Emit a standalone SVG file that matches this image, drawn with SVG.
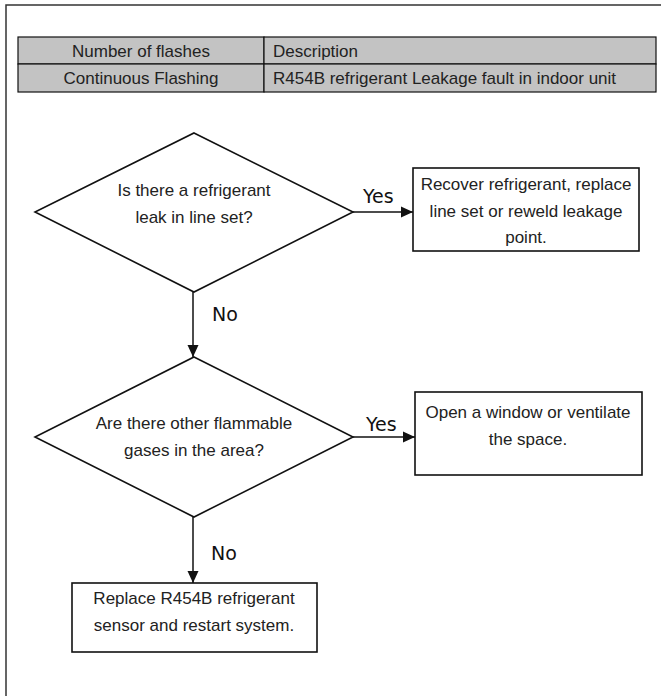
<svg xmlns="http://www.w3.org/2000/svg" width="661" height="696" viewBox="0 0 661 696">
<style>
.t{font-family:"Liberation Sans",Arial,sans-serif;font-size:17px;fill:#222;}
.c{text-anchor:middle;}
.lbl{font-family:"DejaVu Sans",Verdana,sans-serif;font-size:19px;fill:#111;}
.shape{fill:#fff;stroke:#111;stroke-width:1.6;}
.cell{fill:#c3c3c3;stroke:#111;stroke-width:1.2;}
.conn{stroke:#111;stroke-width:1.5;fill:none;}
</style>
<defs>
<marker id="ah" markerWidth="12" markerHeight="12" refX="12" refY="6" orient="auto" markerUnits="userSpaceOnUse">
<path d="M0,0.5 L12,6 L0,11.5 Z" fill="#111"/>
</marker>
</defs>
<rect width="661" height="696" fill="#fff"/>
<rect x="6" y="5" width="700" height="720" fill="none" stroke="#333" stroke-width="1.5"/>
<g id="table">
<rect class="cell" x="18" y="37" width="246" height="27"/>
<rect class="cell" x="264" y="37" width="392" height="27"/>
<rect class="cell" x="18" y="64" width="246" height="28"/>
<rect class="cell" x="264" y="64" width="392" height="28"/>
<text class="t c" x="141" y="57">Number of flashes</text>
<text class="t" x="273" y="57">Description</text>
<text class="t c" x="141" y="84">Continuous Flashing</text>
<text class="t" x="273" y="84">R454B refrigerant Leakage fault in indoor unit</text>
</g>
<g id="connectors">
<line class="conn" x1="353" y1="212" x2="413" y2="212" marker-end="url(#ah)"/>
<line class="conn" x1="193" y1="292" x2="193" y2="357" marker-end="url(#ah)"/>
<line class="conn" x1="353" y1="437" x2="415" y2="437" marker-end="url(#ah)"/>
<line class="conn" x1="193" y1="517" x2="193" y2="583" marker-end="url(#ah)"/>
<text class="lbl" x="363" y="203">Yes</text>
<text class="lbl" x="212" y="321">No</text>
<text class="lbl" x="366" y="431">Yes</text>
<text class="lbl" x="211" y="560">No</text>
</g>
<g id="d1">
<polygon class="shape" points="194,133 353,212 194,292 35,212"/>
<text class="t c" x="194" y="196">Is there a refrigerant</text>
<text class="t c" x="194" y="223">leak in line set?</text>
</g>
<g id="b1">
<rect class="shape" x="413" y="168" width="226" height="83"/>
<text class="t c" x="526" y="190">Recover refrigerant, replace</text>
<text class="t c" x="526" y="217">line set or reweld leakage</text>
<text class="t c" x="526" y="243">point.</text>
</g>
<g id="d2">
<polygon class="shape" points="194,357 353,437 194,517 35,437"/>
<text class="t c" x="194" y="429">Are there other flammable</text>
<text class="t c" x="194" y="456">gases in the area?</text>
</g>
<g id="b2">
<rect class="shape" x="415" y="392" width="227" height="83"/>
<text class="t c" x="528" y="418">Open a window or ventilate</text>
<text class="t c" x="528" y="445">the space.</text>
</g>
<g id="b3">
<rect class="shape" x="72" y="583" width="245" height="69"/>
<text class="t c" x="194" y="604">Replace R454B refrigerant</text>
<text class="t c" x="194" y="631">sensor and restart system.</text>
</g>
</svg>
